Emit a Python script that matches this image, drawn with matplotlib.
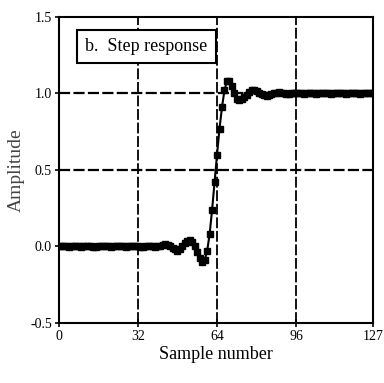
import numpy as np
import matplotlib.pyplot as plt

# step response of the filter, one value per sample (0..127)
samples = np.arange(128)
step = [
    0.00, 0.00, 0.005, 0.00, -0.005, 0.00, 0.005, 0.00, 0.00, -0.005,
    0.00, 0.00, 0.005, 0.00, -0.005, -0.005, 0.00, 0.00, 0.005, 0.00,
    0.00, -0.005, 0.00, 0.00, 0.005, 0.005, 0.00, -0.005, 0.00, 0.00,
    0.00, 0.005, 0.00, -0.005, -0.005, 0.00, 0.005, 0.005, 0.00, -0.005,
    0.00, 0.005, 0.01, 0.015, 0.01, 0.00, -0.01, -0.02, -0.03, -0.02,
    0.00, 0.02, 0.035, 0.04, 0.03, 0.00, -0.04, -0.075, -0.10, -0.09,
    -0.03, 0.08, 0.24, 0.42, 0.60, 0.77, 0.91, 1.02, 1.08, 1.08,
    1.05, 1.00, 0.965, 0.955, 0.96, 0.975, 0.99, 1.01, 1.02, 1.02,
    1.015, 1.005, 0.995, 0.99, 0.985, 0.99, 0.995, 1.00, 1.005, 1.01,
    1.005, 1.00, 0.995, 0.995, 1.00, 1.00, 1.005, 1.00, 1.00, 0.995,
    1.00, 1.00, 1.005, 1.00, 0.995, 1.00, 1.00, 1.005, 1.00, 1.00,
    0.995, 1.00, 1.00, 1.005, 1.00, 1.00, 0.995, 1.00, 1.00, 1.005,
    1.00, 1.00, 0.995, 1.00, 1.00, 1.005, 1.00, 1.00,
]
xticks = [0, 32, 64, 96, 127]
yticks = [-0.5, 0.0, 0.5, 1.0, 1.5]
ytick_labels = ['-0.5', '0.0', '0.5', '1.0', '1.5']

plt.rcParams['font.family'] = 'Liberation Serif'

fig = plt.figure(figsize=(3.84, 3.83), dpi=100)
ax = fig.add_axes([0.153, 0.157, 0.818, 0.799])

# dashed grid
for g in [0.5, 1.0]:
    ax.axhline(g, color='black', lw=1.6, ls=(0, (5, 1.5)), zorder=1)
for g in [32, 64, 96]:
    ax.axvline(g, color='black', lw=1.3, ls=(0, (6, 1.5)), zorder=1)

ax.plot(samples, step, color='black', lw=1.5, marker='s', ms=4.8,
        mec='black', mfc='black', zorder=3)

ax.set_xlim(0, 127)
ax.set_ylim(-0.5, 1.5)
ax.set_xticks(xticks)
ax.set_xticklabels([str(t) for t in xticks])
ax.set_yticks(yticks)
ax.set_yticklabels(ytick_labels)
ax.tick_params(direction='inout', length=6, width=1.2, labelsize=10, pad=2)
for s in ax.spines.values():
    s.set_linewidth(1.5)

ax.set_xlabel('Sample number', fontsize=13, labelpad=2)
ax.set_ylabel('Amplitude', fontsize=14, labelpad=4, color='#444444')

ax.text(0.085, 0.93, 'b.  Step response', transform=ax.transAxes,
        fontsize=13, va='top', ha='left', zorder=5,
        bbox=dict(boxstyle='square,pad=0.45', fc='white', ec='black', lw=1.5))

fig.savefig('out.png', dpi=100)
